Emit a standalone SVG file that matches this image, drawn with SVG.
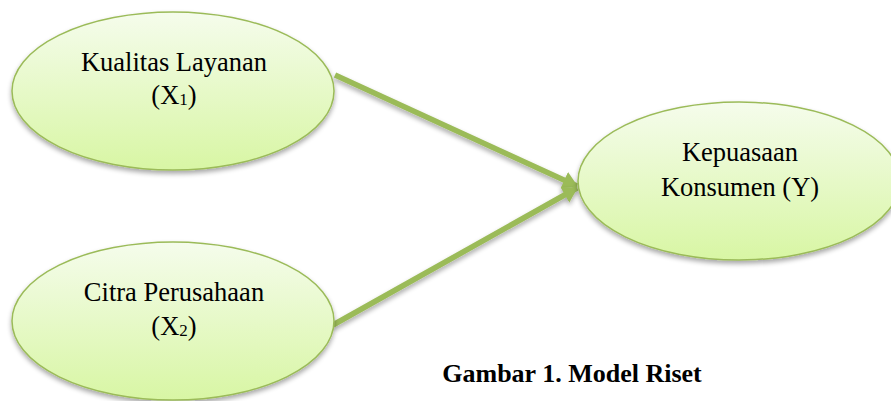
<svg xmlns="http://www.w3.org/2000/svg" width="891" height="401" viewBox="0 0 891 401">
<defs>
<linearGradient id="g" x1="0" y1="0" x2="0" y2="1">
<stop offset="0" stop-color="#f5fcec"/>
<stop offset="1" stop-color="#d8f6a4"/>
</linearGradient>
<filter id="sh" x="-10%" y="-10%" width="120%" height="130%">
<feGaussianBlur in="SourceAlpha" stdDeviation="2.5"/>
<feOffset dx="0" dy="3" result="b"/>
<feComponentTransfer><feFuncA type="linear" slope="0.35"/></feComponentTransfer>
<feMerge><feMergeNode/><feMergeNode in="SourceGraphic"/></feMerge>
</filter>
<marker id="ah" markerUnits="userSpaceOnUse" markerWidth="16" markerHeight="18" refX="14" refY="9" orient="auto">
<path d="M0,0 L15,9 L0,18 Z" fill="#9bbb59"/>
</marker>
<style>
.node ellipse{fill:url(#g);stroke:#9bbb59;stroke-width:1.5;filter:url(#sh)}
.node text{font-family:"Liberation Serif","Times New Roman",serif;font-size:26.5px;fill:#000;text-anchor:middle}
.sub{font-size:17px}
.edge{stroke:#9bbb59;stroke-width:5.5;fill:none;marker-end:url(#ah);filter:url(#sh)}
.title{font-family:"Liberation Serif","Times New Roman",serif;font-size:26px;font-weight:bold;text-anchor:middle}
</style>
</defs>
<rect width="891" height="401" fill="#ffffff"/>
<g id="connectors">
<line class="edge" x1="335" y1="75" x2="577" y2="186"/>
<line class="edge" x1="333" y1="325" x2="577" y2="188"/>
</g>
<g id="node-x1" class="node">
<ellipse cx="173" cy="91" rx="161" ry="79"/>
<text x="174" y="71">Kualitas Layanan</text>
<text x="174" y="104">(X<tspan class="sub" dy="1">1</tspan><tspan dy="-1">)</tspan></text>
</g>
<g id="node-x2" class="node">
<ellipse cx="173" cy="321" rx="161" ry="79"/>
<text x="174" y="301">Citra Perusahaan</text>
<text x="174" y="335">(X<tspan class="sub" dy="1">2</tspan><tspan dy="-1">)</tspan></text>
</g>
<g id="node-y" class="node">
<ellipse cx="739" cy="181" rx="161" ry="79"/>
<text x="740" y="161">Kepuasaan</text>
<text x="740" y="196">Konsumen (Y)</text>
</g>
<text class="title" x="572" y="382">Gambar 1. Model Riset</text>
</svg>
